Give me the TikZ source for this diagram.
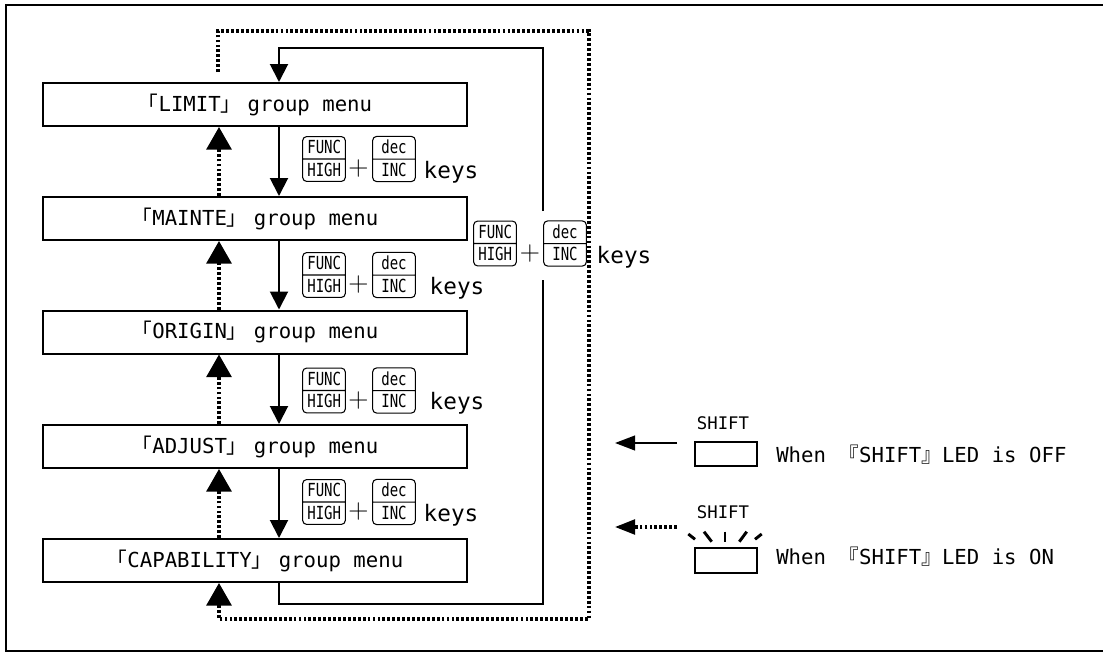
\documentclass[tikz,border=0pt]{standalone}
\usepackage{fontspec}
\usepackage{graphicx}
\usetikzlibrary{arrows.meta,shapes.multipart}
\newfontfamily\mono{DejaVu Sans Mono}
\newfontfamily\cjk{Noto Sans CJK JP}
\newcommand{\kt}[1]{\rule[-1pt]{0pt}{9.4pt}\scalebox{0.78}[1]{#1}}
\newcommand{\lbr}{{\cjk 「}}
\newcommand{\rbr}{{\cjk 」}\kern-0.3em}
\tikzset{
  menu/.style={draw, line width=1.5pt, minimum width=317.6pt, minimum height=32.25pt, inner sep=0pt, font=\mono\fontsize{15.5pt}{18pt}\selectfont},
  keycap/.style={rectangle split, rectangle split parts=2, draw, line width=0.8pt, rounded corners=3pt, text width=25pt, align=center, inner xsep=3.5pt, inner ysep=2.5pt, font=\mono\fontsize{13.5pt}{14pt}\selectfont},
  plussign/.style={inner sep=0pt, font=\fontsize{21pt}{21pt}\selectfont},
  keyword/.style={inner sep=0pt, font=\mono\fontsize{17pt}{19pt}\selectfont},
  legend/.style={inner sep=0pt, font=\mono\fontsize{15.5pt}{18pt}\selectfont},
  shiftlbl/.style={inner sep=0pt, font=\mono\fontsize{13pt}{15pt}\selectfont},
  ledbox/.style={draw, line width=1.5pt, minimum width=46.5pt, minimum height=18.5pt, inner sep=0pt},
  sline/.style={line width=1.5pt},
  sarr/.style={line width=1.5pt, -{Triangle[length=13.5pt,width=13.5pt]}},
  dline/.style={line width=2.4pt, dash pattern=on 2.1pt off 1.6pt},
  darr/.style={dline, -{Triangle[length=17pt,width=18.75pt]}},
  larr/.style={line width=1.5pt, -{Triangle[length=15pt,width=11pt]}},
  ldarr/.style={dline, -{Triangle[length=15pt,width=11pt]}},
  ray/.style={line width=2.2pt},
}
\begin{document}
\begin{tikzpicture}[x=0.75pt,y=-0.75pt]
\useasboundingbox (0,0) rectangle (1103,653);
% frame (right edge lies outside the picture)
\draw[line width=1.8pt] (1110,5) -- (6,5) -- (6,651) -- (1110,651);

% menu boxes
\node[menu] (lim) at (255,104.5) {\lbr LIMIT\rbr{} group menu};
\node[menu] (mnt) at (255,218.5) {\lbr MAINTE\rbr{} group menu};
\node[menu] (org) at (255,332)   {\lbr ORIGIN\rbr{} group menu};
\node[menu] (adj) at (255,446.5) {\lbr ADJUST\rbr{} group menu};
\node[menu] (cap) at (255,560.5) {\lbr CAPABILITY\rbr{} group menu};

\coordinate (sx) at (279,0);
\coordinate (dx) at (219,0);

% solid down arrows
\draw[sarr] (lim.south -| sx) -- (mnt.north -| sx);
\draw[sarr] (mnt.south -| sx) -- (org.north -| sx);
\draw[sarr] (org.south -| sx) -- (adj.north -| sx);
\draw[sarr] (adj.south -| sx) -- (cap.north -| sx);

% dotted up arrows
\draw[darr] (mnt.north -| dx) -- (lim.south -| dx);
\draw[darr] (org.north -| dx) -- (mnt.south -| dx);
\draw[darr] (adj.north -| dx) -- (org.south -| dx);
\draw[darr] (cap.north -| dx) -- (adj.south -| dx);

% key labels between boxes
\foreach \n/\y/\kx in {a/159/451, b/275/457, c/390.5/457, d/502/451}{
  \node[keycap] (f\n) at (324,\y) {\kt{FUNC}\nodepart{two}\kt{HIGH}};
  \node[plussign] (p\n) at (358.5,\y+10) {+};
  \node[keycap] (i\n) at (394,\y) {\kt{dec}\nodepart{two}\kt{INC}};
  \node[keyword] (k\n) at (\kx,\y+13) {keys};
}

% solid return loop
\coordinate (rb) at (543,604);
\coordinate (rg1) at (543,280);
\coordinate (rg2) at (543,211);
\coordinate (rt) at (543,48);
\draw[sline] (cap.south -| sx) |- (rb) -- (rg1);
\draw[sarr] (rg2) -- (rt) -| (lim.north -| sx);

% right key label
\node[keycap] (fr) at (495,243.5) {\kt{FUNC}\nodepart{two}\kt{HIGH}};
\node[plussign] (pr) at (530,254) {+};
\node[keycap] (ir) at (565,243.5) {\kt{dec}\nodepart{two}\kt{INC}};
\node[keyword] (kr) at (624,257) {keys};

% dotted return loop
\coordinate (d0) at (218,72);
\coordinate (d1) at (589,31);
\coordinate (d2) at (589,619);
\draw[darr] (d0) |- (d1) -- (d2) -| (cap.south -| dx);

% legend
\node[shiftlbl] (sh1) at (723,423) {SHIFT};
\node[ledbox] (led1) at (726,454) {};
\coordinate (a1s) at (677,443);
\coordinate (a1e) at (615,443);
\draw[larr] (a1s) -- (a1e);
\node[legend, anchor=west] (t1) at (776,455) {When {\cjk 『}SHIFT{\cjk 』}LED is OFF};

\node[shiftlbl] (sh2) at (723,512) {SHIFT};
\node[ledbox] (led2) at (726,560.5) {};
\coordinate (a2s) at (677,527);
\coordinate (a2e) at (615,527);
\draw[ldarr] (a2s) -- (a2e);
\node[legend, anchor=west] (t2) at (776,557) {When {\cjk 『}SHIFT{\cjk 』}LED is ON};
\draw[ray] (688.3,534) -- (695,539.3);
\draw[ray] (704,531.7) -- (711.7,541.7);
\draw[ray] (725,531.7) -- (725,541.7);
\draw[ray] (746.7,531.7) -- (739.3,541.7);
\draw[ray] (761.7,534) -- (755,539.3);
\end{tikzpicture}
\end{document}
